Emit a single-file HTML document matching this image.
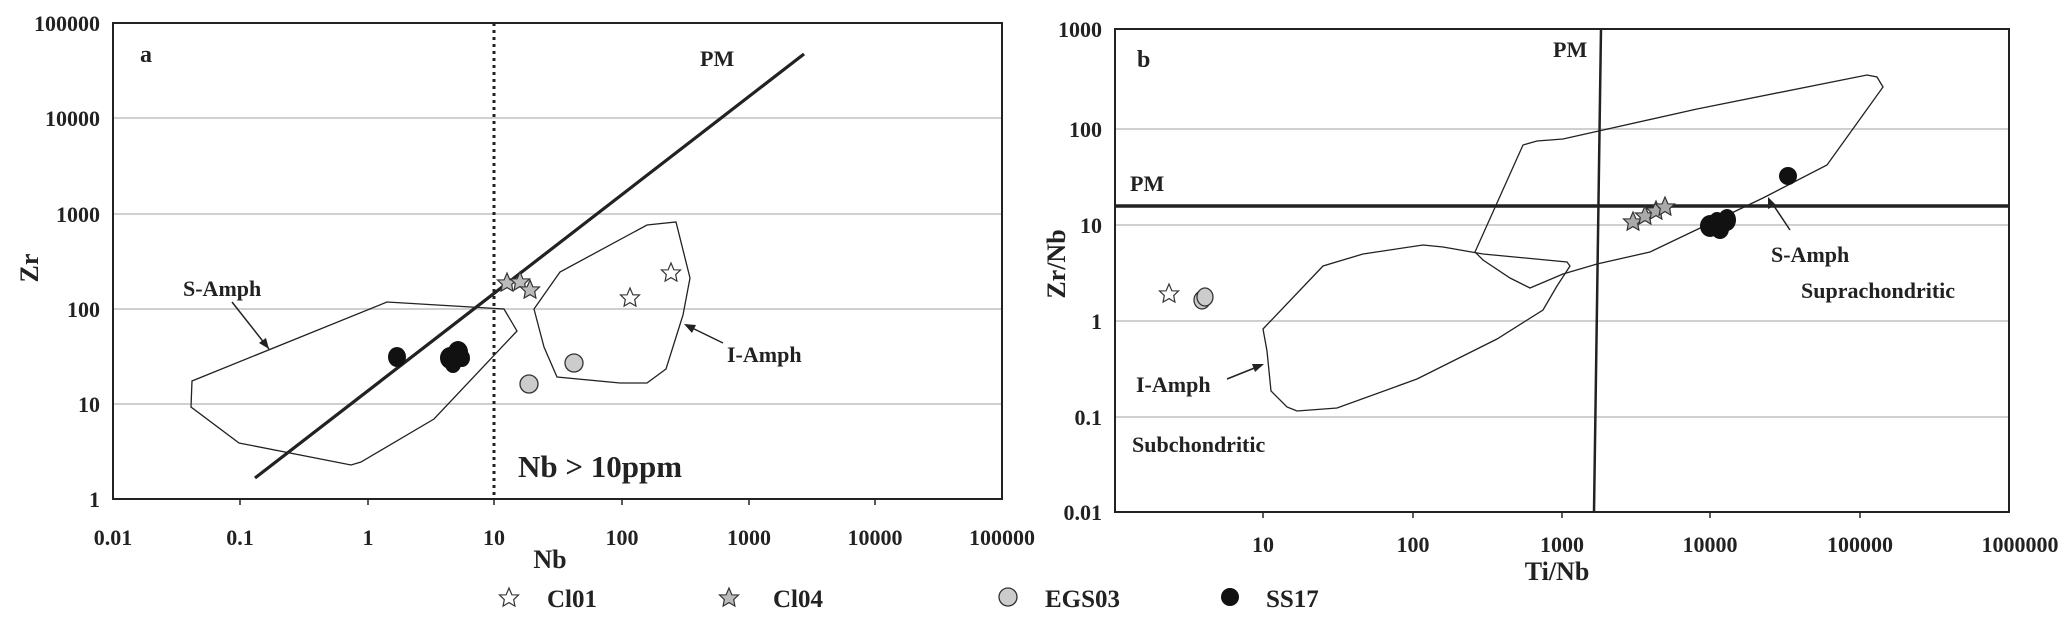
<!DOCTYPE html>
<html><head><meta charset="utf-8"><style>
html,body{margin:0;padding:0;background:#fff;}
svg text{font-family:"Liberation Serif",serif;font-weight:bold;fill:#222;}
</style></head><body>
<svg width="2067" height="632" viewBox="0 0 2067 632" xmlns="http://www.w3.org/2000/svg">
<defs>
<polygon id="st" points="0,-10 2.9,-3.2 9.5,-3.1 4.7,1.6 5.9,8.1 0,4.6 -5.9,8.1 -4.7,1.6 -9.5,-3.1 -2.9,-3.2"/>
</defs>
<!-- Chart a -->
<g stroke="#d0d0d0" stroke-width="2">
<line x1="113" y1="118" x2="1002" y2="118"/><line x1="113" y1="214" x2="1002" y2="214"/>
<line x1="113" y1="309" x2="1002" y2="309"/><line x1="113" y1="404" x2="1002" y2="404"/>
</g>
<rect x="113" y="23" width="889" height="476" fill="none" stroke="#222" stroke-width="2"/>
<g stroke="#222" stroke-width="1.5">
<line x1="240" y1="499" x2="240" y2="505"/><line x1="368" y1="499" x2="368" y2="505"/>
<line x1="494" y1="499" x2="494" y2="505"/><line x1="622" y1="499" x2="622" y2="505"/>
<line x1="749" y1="499" x2="749" y2="505"/><line x1="875" y1="499" x2="875" y2="505"/>
</g>
<line x1="494" y1="23" x2="494" y2="499" stroke="#222" stroke-width="3" stroke-dasharray="3,4"/>
<polygon points="192,381 191,407 239,443 351,465 361,462 434,419 517,331 504,309 387,302" fill="none" stroke="#222" stroke-width="1.3"/>
<polygon points="534,309 560,272 647,225 676,222 690,278 683,315 666,369 647,383 620,383 557,377 544,347" fill="none" stroke="#222" stroke-width="1.3"/>
<line x1="255" y1="478" x2="804" y2="54" stroke="#222" stroke-width="3.2"/>
<line x1="232" y1="302" x2="269" y2="349" stroke="#222" stroke-width="1.5"/>
<polygon points="269,349 259,343 266,338" fill="#222"/>
<line x1="723" y1="343" x2="686" y2="325" stroke="#222" stroke-width="1.5"/>
<polygon points="684,324 696,325 692,333" fill="#222"/>
<g stroke="#333" stroke-width="1.2">
<use href="#st" x="630" y="298" fill="#fff"/>
<use href="#st" x="671" y="273" fill="#fff"/>
<use href="#st" x="507" y="283" fill="#bbb"/>
<use href="#st" x="520" y="282" fill="#bbb"/>
<use href="#st" x="530" y="290" fill="#bbb"/>
</g>
<g fill="#ccc" stroke="#333" stroke-width="1.3">
<ellipse cx="574" cy="363" rx="9" ry="9"/><ellipse cx="529" cy="384" rx="9" ry="9"/>
</g>
<g fill="#111">
<ellipse cx="397" cy="357" rx="9" ry="10"/>
<ellipse cx="450" cy="358" rx="10" ry="11"/><ellipse cx="458" cy="352" rx="10" ry="11"/>
<ellipse cx="453" cy="364" rx="8" ry="9"/><ellipse cx="462" cy="358" rx="8" ry="9"/>
</g>
<text x="140" y="62" font-size="24">a</text>
<text x="700" y="66" font-size="22">PM</text>
<text x="183" y="296" font-size="22">S-Amph</text>
<text x="727" y="362" font-size="22">I-Amph</text>
<text x="518" y="477" font-size="31">Nb &gt; 10ppm</text>
<g font-size="22" text-anchor="end">
<text x="100" y="31">100000</text><text x="100" y="126">10000</text><text x="100" y="222">1000</text>
<text x="100" y="317">100</text><text x="100" y="412">10</text><text x="100" y="507">1</text>
</g>
<g font-size="22" text-anchor="middle">
<text x="113" y="545">0.01</text><text x="240" y="545">0.1</text><text x="368" y="545">1</text>
<text x="494" y="545">10</text><text x="622" y="545">100</text><text x="749" y="545">1000</text>
<text x="875" y="545">10000</text><text x="1002" y="545">100000</text>
</g>
<text x="550" y="568" font-size="26" text-anchor="middle">Nb</text>
<text transform="translate(38 268) rotate(-90)" font-size="26" text-anchor="middle">Zr</text>
<!-- Chart b -->
<g stroke="#d0d0d0" stroke-width="2">
<line x1="1115" y1="129" x2="2009" y2="129"/><line x1="1115" y1="225" x2="2009" y2="225"/>
<line x1="1115" y1="321" x2="2009" y2="321"/><line x1="1115" y1="417" x2="2009" y2="417"/>
</g>
<rect x="1115" y="29" width="894" height="483" fill="none" stroke="#222" stroke-width="2"/>
<g stroke="#222" stroke-width="1.5">
<line x1="1263" y1="512" x2="1263" y2="518"/><line x1="1413" y1="512" x2="1413" y2="518"/>
<line x1="1562" y1="512" x2="1562" y2="518"/><line x1="1710" y1="512" x2="1710" y2="518"/>
<line x1="1860" y1="512" x2="1860" y2="518"/>
</g>
<polygon points="1475,252 1523,145 1537,141 1563,139 1697,109 1867,75 1877,77 1883,87 1827,165 1763,198 1650,252 1597,264 1563,274 1530,288 1510,278 1483,260" fill="none" stroke="#222" stroke-width="1.3"/>
<polygon points="1263,329 1323,266 1363,254 1423,245 1443,247 1483,254 1567,262 1570,266 1557,286 1543,310 1497,339 1417,379 1337,408 1297,411 1287,407 1271,391 1267,351" fill="none" stroke="#222" stroke-width="1.3"/>
<line x1="1601" y1="29" x2="1594" y2="512" stroke="#222" stroke-width="2.5"/>
<line x1="1115" y1="206" x2="2009" y2="206" stroke="#222" stroke-width="3.5"/>
<line x1="1790" y1="230" x2="1770" y2="200" stroke="#222" stroke-width="1.5"/>
<polygon points="1768,197 1768,209 1776,205" fill="#222"/>
<line x1="1227" y1="379" x2="1262" y2="365" stroke="#222" stroke-width="1.5"/>
<polygon points="1264,364 1252,364 1255,372" fill="#222"/>
<g stroke="#333" stroke-width="1.2">
<use href="#st" x="1169" y="294" fill="#fff"/>
<use href="#st" x="1633" y="222" fill="#aaa"/><use href="#st" x="1645" y="216" fill="#aaa"/>
<use href="#st" x="1656" y="211" fill="#aaa"/><use href="#st" x="1665" y="207" fill="#aaa"/>
</g>
<g fill="#ccc" stroke="#333" stroke-width="1.3">
<ellipse cx="1202" cy="300" rx="8" ry="9"/><ellipse cx="1205" cy="297" rx="8" ry="9"/>
</g>
<g fill="#111">
<ellipse cx="1788" cy="176" rx="9" ry="9"/>
<ellipse cx="1710" cy="226" rx="10" ry="11"/><ellipse cx="1720" cy="229" rx="9" ry="10"/>
<ellipse cx="1727" cy="220" rx="9" ry="11"/><ellipse cx="1717" cy="221" rx="8" ry="9"/>
</g>
<text x="1137" y="67" font-size="24">b</text>
<text x="1553" y="57" font-size="22">PM</text>
<text x="1130" y="191" font-size="22">PM</text>
<text x="1771" y="262" font-size="22">S-Amph</text>
<text x="1801" y="298" font-size="22">Suprachondritic</text>
<text x="1136" y="392" font-size="22">I-Amph</text>
<text x="1132" y="452" font-size="22">Subchondritic</text>
<g font-size="22" text-anchor="end">
<text x="1102" y="37">1000</text><text x="1102" y="137">100</text><text x="1102" y="233">10</text>
<text x="1102" y="329">1</text><text x="1102" y="425">0.1</text><text x="1102" y="520">0.01</text>
</g>
<g font-size="22" text-anchor="middle">
<text x="1263" y="552">10</text><text x="1413" y="552">100</text><text x="1562" y="552">1000</text>
<text x="1710" y="552">10000</text><text x="1860" y="552">100000</text><text x="2020" y="552">1000000</text>
</g>
<text x="1557" y="580" font-size="26" text-anchor="middle">Ti/Nb</text>
<text transform="translate(1065 264) rotate(-90)" font-size="26" text-anchor="middle">Zr/Nb</text>
<!-- Legend -->
<g stroke="#333" stroke-width="1.2">
<use href="#st" x="509" y="598" fill="#fff"/>
<use href="#st" x="729" y="598" fill="#bbb"/>
</g>
<ellipse cx="1008" cy="597" rx="9" ry="9" fill="#ccc" stroke="#333" stroke-width="1.3"/>
<ellipse cx="1230" cy="597" rx="9" ry="9" fill="#111"/>
<g font-size="25">
<text x="547" y="607">Cl01</text><text x="773" y="607">Cl04</text>
<text x="1045" y="607">EGS03</text><text x="1266" y="607">SS17</text>
</g>
</svg>
</body></html>
